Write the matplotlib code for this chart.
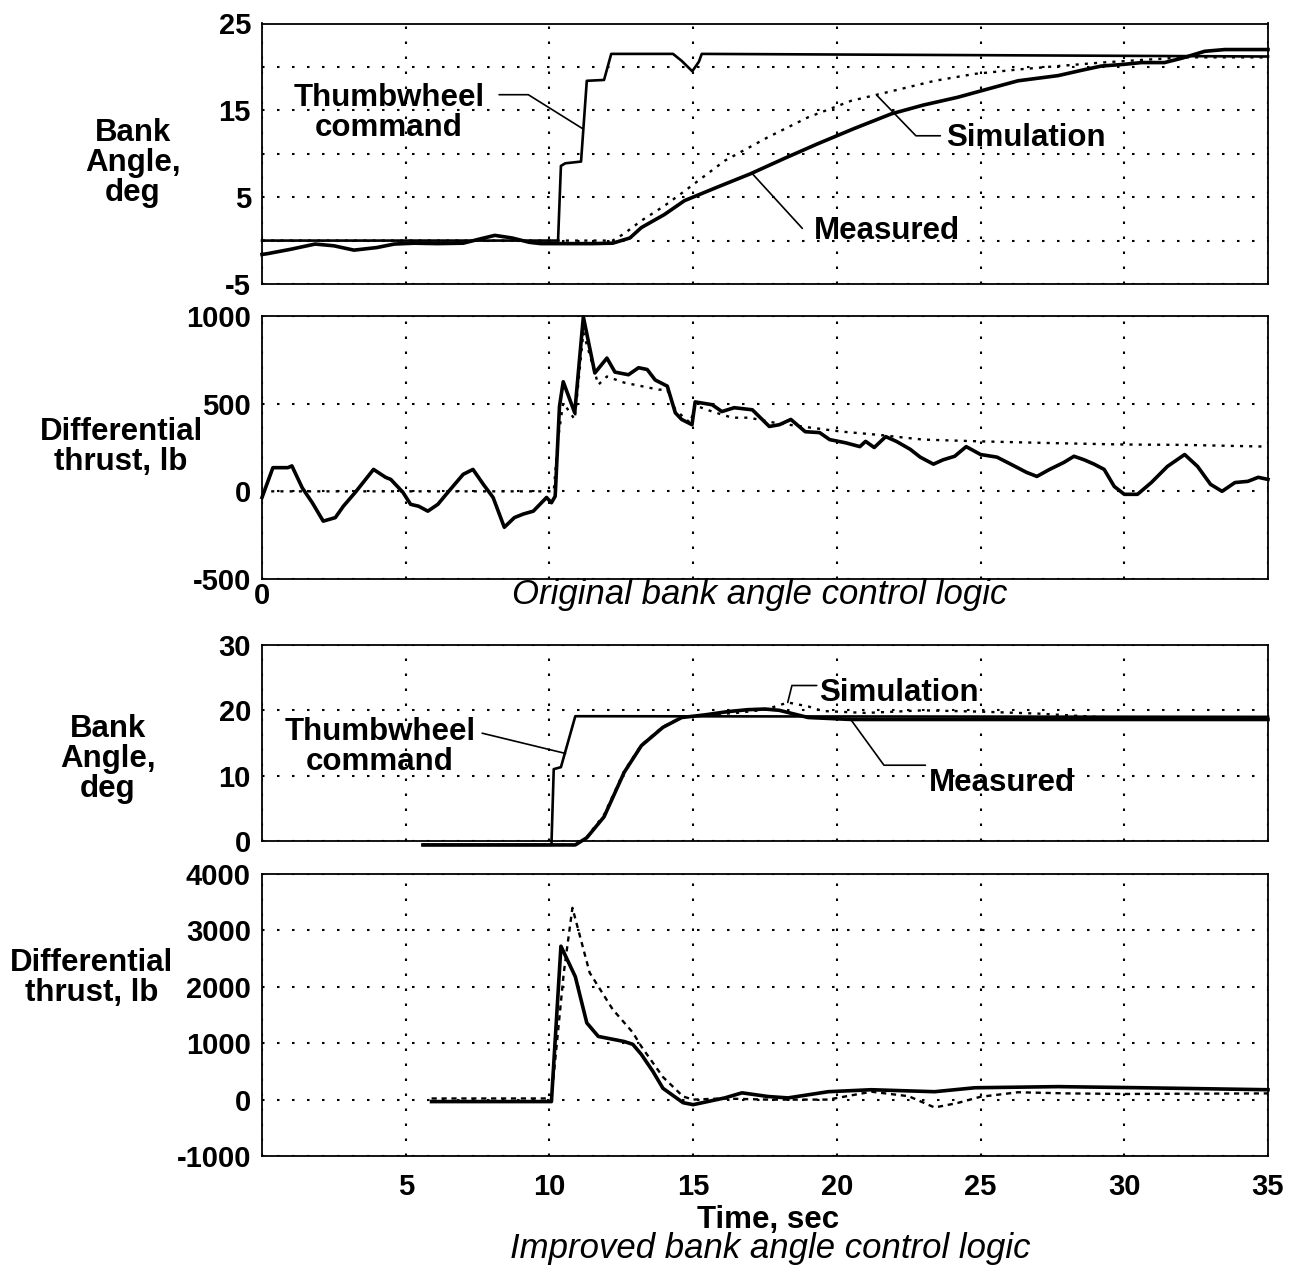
import numpy as np
import matplotlib
matplotlib.use("Agg")
import matplotlib.pyplot as plt

plt.rcParams['font.family'] = ['Liberation Sans', 'DejaVu Sans']
plt.rcParams['font.weight'] = 'bold'

# ---- original logic, bank angle (deg) ----
t_meas1 = [0, 0.2, 1.0, 1.85, 2.5, 3.2, 4.0, 4.6, 5.3, 6.1, 7.0, 7.6, 8.1, 8.7, 9.3, 9.7,
           10.5, 11.5, 12.2, 12.8, 13.2, 14.0, 14.7, 15.8, 17.0, 18.2, 19.3, 20.6, 21.9,
           23.0, 24.2, 25.3, 26.3, 27.0, 27.7, 28.5, 29.2, 30.0, 30.6, 31.4, 32.0, 32.8,
           33.5, 35.0]
meas1 = [-1.6, -1.5, -1.0, -0.4, -0.6, -1.1, -0.8, -0.4, -0.3, -0.35, -0.3, 0.2, 0.6, 0.3,
         -0.2, -0.35, -0.35, -0.35, -0.3, 0.3, 1.5, 3.0, 4.6, 6.1, 7.7, 9.5, 11.1, 12.9,
         14.6, 15.6, 16.5, 17.5, 18.4, 18.7, 19.0, 19.6, 20.1, 20.3, 20.5, 20.5, 21.0,
         21.8, 22.0, 22.0]
t_sim1 = [0, 12.2, 12.6, 13.2, 14.0, 14.7, 16.1, 17.6, 19.0, 20.5, 21.9, 23.4, 24.8, 26.3,
          27.7, 29.2, 30.6, 32.1, 35]
sim1 = [0, 0, 0.8, 2.3, 4.0, 5.7, 9.2, 11.9, 14.2, 16.1, 17.2, 18.4, 19.2, 19.7, 20.1,
        20.5, 20.8, 21.1, 21.1]
t_cmd1 = [0, 10.3, 10.4, 10.55, 11.1, 11.3, 11.9, 12.15, 14.3, 14.6, 14.97, 15.2, 15.3, 35]
cmd1 = [0, 0, 8.6, 8.9, 9.1, 18.4, 18.5, 21.5, 21.5, 20.7, 19.5, 20.6, 21.5, 21.2]

# ---- original logic, differential thrust (lb) ----
t_meas2 = [0, 0.38, 0.9, 1.04, 1.4, 1.75, 2.13, 2.55, 2.83, 3.25, 3.88, 4.3, 4.48, 4.9,
           5.17, 5.45, 5.77, 6.12, 6.47, 7.0, 7.34, 7.7, 8.04, 8.43, 8.78, 9.08, 9.44, 9.9,
           10.07, 10.2, 10.35, 10.48, 10.88, 11.18, 11.58, 12.0, 12.28, 12.75, 13.1, 13.4,
           13.68, 14.1, 14.38, 14.6, 14.96, 15.07, 15.66, 16.0, 16.43, 17.06, 17.65, 18.0,
           18.4, 18.9, 19.4, 19.75, 20.3, 20.8, 21.0, 21.3, 21.7, 22.07, 22.55, 22.9,
           23.36, 23.7, 24.1, 24.5, 25.0, 25.57, 26.05, 26.6, 26.96, 27.4, 27.9, 28.25,
           28.6, 28.95, 29.3, 29.65, 30.0, 30.46, 30.94, 31.5, 32.1, 32.55, 33.0, 33.4,
           33.85, 34.3, 34.66, 35.0]
meas2 = [-35, 135, 135, 145, 20, -65, -170, -150, -85, -5, 125, 80, 68, -5, -74, -85,
         -113, -74, -5, 97, 125, 40, -35, -205, -150, -130, -113, -35, -65, -28, 485, 625,
         448, 995, 675, 760, 680, 665, 705, 695, 635, 600, 448, 410, 380, 510, 494, 455,
         477, 465, 370, 380, 410, 340, 335, 295, 277, 255, 285, 250, 312, 285, 240, 195,
         155, 180, 200, 255, 210, 195, 155, 108, 85, 125, 165, 200, 180, 155, 125, 28,
         -17, -17, 50, 142, 210, 142, 40, 0, 50, 57, 80, 68]
t_sim2 = [0, 10.15, 10.3, 10.48, 10.88, 11.18, 11.7, 12.0, 12.6, 13.2, 13.8, 14.1, 14.38,
          14.9, 15.07, 15.66, 16.36, 16.95, 17.87, 19.05, 20.2, 21.4, 23.0, 25.0, 27.5,
          30.0, 32.0, 35.0]
sim2 = [0, 0, 300, 505, 410, 905, 608, 655, 620, 600, 580, 580, 465, 390, 490, 455, 420,
        420, 390, 364, 340, 323, 295, 285, 275, 267, 265, 255]

# ---- improved logic, bank angle (deg) ----
t_cmd3 = [5.6, 10.07, 10.15, 10.4, 10.9, 35]
cmd3 = [-0.6, -0.6, 11.0, 11.3, 19.1, 19.0]
t_meas3 = [5.6, 10.9, 11.3, 11.9, 12.6, 13.2, 13.95, 14.6, 15.4, 16.2, 16.9, 17.5, 18.0,
           19.0, 20.5, 23, 35]
meas3 = [-0.6, -0.6, 0.5, 3.7, 10.5, 14.6, 17.4, 18.9, 19.3, 19.8, 20.1, 20.2, 20.0,
         18.9, 18.6, 18.6, 18.6]
t_sim3 = [5.6, 10.9, 11.3, 11.9, 12.6, 13.2, 13.95, 14.6, 15.4, 16.5, 17.5, 18.3, 19.0,
          19.5, 21, 23, 25, 27, 29, 31, 35]
sim3 = [-0.6, -0.6, 0.6, 4.0, 10.7, 14.7, 17.5, 18.9, 19.3, 19.6, 20.1, 21.2, 20.6, 19.9,
        19.6, 20.0, 19.8, 19.5, 19.0, 18.8, 18.7]

# ---- improved logic, differential thrust (lb) ----
t_meas4 = [5.9, 10.07, 10.4, 10.9, 11.3, 11.7, 12.3, 12.6, 12.9, 13.2, 13.6, 13.95, 14.65,
           15.0, 16.1, 16.7, 17.6, 18.3, 19.7, 21.2, 23.4, 24.8, 27.7, 30.6, 35]
meas4 = [-35, -35, 2720, 2180, 1360, 1120, 1060, 1030, 980, 800, 500, 200, -55, -90, 30,
         120, 55, 30, 140, 175, 140, 210, 230, 210, 175]
t_sim4 = [5.9, 10.07, 10.5, 10.8, 11.4, 12.2, 12.9, 13.2, 13.95, 14.65, 15.0, 16.0, 17.6,
          19.7, 21.2, 22.5, 23.4, 24.2, 25.0, 26.3, 28, 30, 35]
sim4 = [20, 20, 2250, 3400, 2250, 1600, 1190, 940, 400, 55, 0, 20, 0, 0, 140, 60, -140,
        -60, 50, 130, 110, 100, 110]

W, H = 1290, 1266
fig = plt.figure(figsize=(W / 100, H / 100), dpi=100)


def box(top, bottom, left=262, right=1268):
    return [left / W, 1 - bottom / H, (right - left) / W, (bottom - top) / H]


def style(ax, ylim, yticks, ylabels, xlabels):
    ax.set_xlim(0, 35)
    ax.set_ylim(*ylim)
    ax.set_yticks(yticks)
    ax.set_yticklabels(ylabels)
    ax.set_xticks(np.arange(0, 36, 5))
    ax.set_xticklabels(xlabels)
    ax.grid(True, color='black', linestyle=(0, (1.2, 6)), linewidth=1.5)
    ax.tick_params(length=0, labelsize=21, pad=8)
    for s in ax.spines.values():
        s.set_linewidth(1.3)


blank = [''] * 8
meas_kw = dict(color='black', lw=2.6, solid_joinstyle='round', clip_on=False, zorder=4)
cmd_kw = dict(color='black', lw=1.9, clip_on=False, zorder=4)
sim_kw = dict(color='black', lw=1.7, linestyle=(0, (1.3, 2.6)), clip_on=False, zorder=3)
lead_kw = dict(arrowstyle='-', lw=1.2, color='black', shrinkA=0, shrinkB=0)
fs = 22.5

ax1 = fig.add_axes(box(23.5, 284))
style(ax1, (-5, 25), np.arange(-5, 26, 5), ['-5', '', '5', '', '15', '', '25'], blank)
ax1.plot(t_sim1, sim1, **sim_kw)
ax1.plot(t_cmd1, cmd1, **cmd_kw)
ax1.plot(t_meas1, meas1, **meas_kw)
ax1.text(4.41, 14.7, "Thumbwheel\ncommand", ha='center', va='center', fontsize=fs, linespacing=1.0)
ax1.annotate('', xy=(11.15, 12.9), xytext=(8.25, 16.8),
             arrowprops=dict(connectionstyle='angle,angleA=0,angleB=148,rad=0', **lead_kw))
ax1.text(23.8, 11.8, "Simulation", ha='left', va='center', fontsize=fs)
ax1.annotate('', xy=(21.4, 16.7), xytext=(23.6, 12.07),
             arrowprops=dict(connectionstyle='angle,angleA=0,angleB=-46,rad=0', **lead_kw))
ax1.text(19.2, 1.15, "Measured", ha='left', va='center', fontsize=fs)
ax1.annotate('', xy=(17.06, 7.7), xytext=(18.8, 1.4), arrowprops=dict(**lead_kw))
fig.text(133 / W, 1 - 163 / H, "Bank\nAngle,\ndeg", ha='center', va='center',
         fontsize=fs, linespacing=1.0)

ax2 = fig.add_axes(box(316, 579))
style(ax2, (-500, 1000), [-500, 0, 500, 1000], ['-500', '0', '500', '1000'],
      ['0'] + [''] * 7)
ax2.tick_params(axis='x', pad=2)
ax2.plot(t_sim2, sim2, **sim_kw)
ax2.plot(t_meas2, meas2, **meas_kw)
fig.text(121 / W, 1 - 447 / H, "Differential\nthrust, lb", ha='center', va='center',
         fontsize=fs, linespacing=1.0)
fig.text(760 / W, 1 - 604 / H, "Original bank angle control logic", ha='center',
         va='baseline', fontsize=25, style='italic', fontweight='normal')

ax3 = fig.add_axes(box(645, 841))
style(ax3, (0, 30), [0, 10, 20, 30], ['0', '10', '20', '30'], blank)
ax3.plot(t_sim3, sim3, **sim_kw)
ax3.plot(t_cmd3, cmd3, **cmd_kw)
ax3.plot(t_meas3, meas3, **meas_kw)
ax3.text(4.1, 14.35, "Thumbwheel\ncommand", ha='center', va='center', fontsize=fs, linespacing=1.0)
ax3.annotate('', xy=(10.56, 13.4), xytext=(7.66, 16.5), arrowprops=dict(**lead_kw))
ax3.text(19.37, 22.7, "Simulation", ha='left', va='center', fontsize=fs)
ax3.annotate('', xy=(18.29, 21.2), xytext=(19.3, 23.8),
             arrowprops=dict(connectionstyle='angle,angleA=0,angleB=76,rad=0', **lead_kw))
ax3.text(23.2, 8.85, "Measured", ha='left', va='center', fontsize=fs)
ax3.annotate('', xy=(20.45, 18.8), xytext=(23.08, 11.6),
             arrowprops=dict(connectionstyle='angle,angleA=0,angleB=-54,rad=0', **lead_kw))
fig.text(108 / W, 1 - 759 / H, "Bank\nAngle,\ndeg", ha='center', va='center',
         fontsize=fs, linespacing=1.0)

ax4 = fig.add_axes(box(874, 1156))
style(ax4, (-1000, 4000), np.arange(-1000, 4001, 1000),
      ['-1000', '0', '1000', '2000', '3000', '4000'],
      [''] + [str(v) for v in range(5, 36, 5)])
ax4.tick_params(axis='x', pad=12)
ax4.plot(t_sim4, sim4, color='black', lw=1.7, linestyle=(0, (2.2, 2.0)), clip_on=False, zorder=3)
ax4.plot(t_meas4, meas4, **meas_kw)
fig.text(92 / W, 1 - 978 / H, "Differential\nthrust, lb", ha='center', va='center',
         fontsize=fs, linespacing=1.0)
fig.text(768 / W, 1 - 1228 / H, "Time, sec", ha='center', va='baseline', fontsize=fs)
fig.text(770 / W, 1 - 1258 / H, "Improved bank angle control logic", ha='center',
         va='baseline', fontsize=25, style='italic', fontweight='normal')

fig.savefig("out.png", dpi=100)
